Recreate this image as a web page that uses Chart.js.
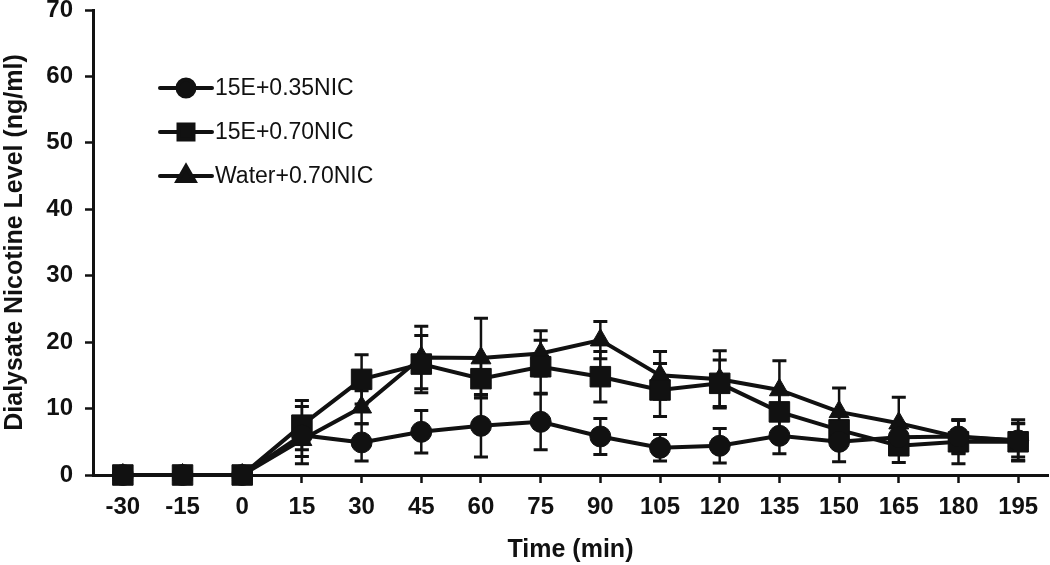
<!DOCTYPE html>
<html><head><meta charset="utf-8">
<script src="https://cdn.jsdelivr.net/npm/chart.js@4.4.1/dist/chart.umd.min.js"></script>
<style>html,body{margin:0;padding:0;background:#fff;}#wrap{width:1050px;height:565px;}</style>
</head><body><div id="wrap"><canvas id="c" width="1050" height="565"></canvas></div>
<script>
const timeLabels = ['-30','-15','0','15','30','45','60','75','90','105','120','135','150','165','180','195'];
const seriesNames = ['15E+0.35NIC','15E+0.70NIC','Water+0.70NIC'];
const e35Values  = [0,0,0,6.0,4.9,6.5,7.4,8.0,5.8,4.1,4.4,5.9,5.0,5.7,5.8,5.2];
const e35Errors  = [0,0,0,4.3,2.8,3.2,4.7,4.2,2.7,2.0,2.6,2.7,3.0,2.0,2.5,2.5];
const e70Values  = [0,0,0,7.5,14.4,16.7,14.5,16.3,14.8,12.8,13.8,9.5,6.8,4.4,5.0,5.0];
const e70Errors  = [0,0,0,3.7,3.7,4.3,2.5,4.0,3.8,4.0,3.5,3.0,2.5,2.5,3.3,2.8];
const w70Values  = [0,0,0,5.3,10.2,17.7,17.6,18.3,20.3,15.0,14.4,12.8,9.5,7.8,5.7,5.2];
const w70Errors  = [0,0,0,2.5,2.5,4.7,6.0,3.4,2.8,3.6,4.3,4.4,3.6,3.9,2.5,3.1];
const yTicks = {min:0, max:70, step:10};

const INK = '#111';
const FONT = '"Liberation Sans", Arial, Helvetica, sans-serif';

const errorBars = {
  id:'errorBars',
  beforeDatasetsDraw(chart){
    const ctx = chart.ctx, ys = chart.scales.y;
    chart.data.datasets.forEach((ds,i)=>{
      const meta = chart.getDatasetMeta(i);
      meta.data.forEach((pt,j)=>{
        const e = ds.errors[j]; if(!e) return;
        const v = ds.data[j];
        const yt = ys.getPixelForValue(v+e), yb = ys.getPixelForValue(v-e);
        ctx.save();
        ctx.strokeStyle = INK; ctx.lineWidth = 2.5;
        ctx.beginPath(); ctx.moveTo(pt.x,yt); ctx.lineTo(pt.x,yb); ctx.stroke();
        ctx.lineWidth = 3;
        ctx.beginPath();
        ctx.moveTo(pt.x-7,yt); ctx.lineTo(pt.x+7,yt);
        ctx.moveTo(pt.x-7,yb); ctx.lineTo(pt.x+7,yb);
        ctx.stroke();
        ctx.restore();
      });
    });
  }
};

const innerLegend = {
  id:'innerLegend',
  afterDraw(chart){
    const ctx = chart.ctx;
    const rows = [88,132,176];
    const legendRadius = [8.5,10.6,9.8];
    chart.data.datasets.forEach((ds,i)=>{
      const y = rows[i];
      ctx.save();
      ctx.strokeStyle = INK; ctx.lineWidth = 4; ctx.lineCap='round';
      ctx.beginPath(); ctx.moveTo(160,y); ctx.lineTo(212,y); ctx.stroke();
      ctx.fillStyle = INK; ctx.strokeStyle = INK;
      Chart.helpers.drawPoint(ctx,{pointStyle:ds.pointStyle,radius:legendRadius[i],rotation:0,borderWidth:1},186,y);
      ctx.fillStyle = INK;
      ctx.font = '23px ' + FONT;
      ctx.textBaseline = 'middle'; ctx.textAlign='left';
      ctx.fillText(ds.label,215,y+1);
      ctx.restore();
    });
  }
};

function ds(label, data, errors, style, radius){
  return {label, data, errors, pointStyle:style, pointRadius:radius, pointHoverRadius:radius,
    borderColor:INK, backgroundColor:INK, pointBackgroundColor:INK, pointBorderColor:INK,
    pointBorderWidth:1, borderWidth:4, tension:0, fill:false, clip:false};
}

new Chart(document.getElementById('c'),{
  type:'line',
  data:{labels:timeLabels, datasets:[
    ds(seriesNames[0], e35Values, e35Errors, 'circle', 10.5),
    ds(seriesNames[1], e70Values, e70Errors, 'rect', 14.5),
    ds(seriesNames[2], w70Values, w70Errors, 'triangle', 11.5)
  ]},
  options:{
    responsive:false, animation:false,
    layout:{autoPadding:false, padding:{top:10,right:2,left:0,bottom:0}},
    plugins:{legend:{display:false},tooltip:{enabled:false}},
    scales:{
      x:{offset:true,
        ticks:{color:INK,font:{family:FONT,size:24,weight:'bold'},padding:10,autoSkip:false,maxRotation:0},
        grid:{drawOnChartArea:false,offset:false,tickLength:8,tickColor:INK,tickWidth:2.5},
        border:{color:INK,width:3},
        title:{display:true,text:'Time (min)',color:INK,font:{family:FONT,size:25,weight:'bold'},padding:{top:0,bottom:0}},
        afterFit(s){s.height=90; s.paddingLeft=0; s.paddingRight=0;}
      },
      y:{min:yTicks.min,max:yTicks.max,
        ticks:{stepSize:yTicks.step,color:INK,font:{family:FONT,size:24,weight:'bold'},padding:12},
        grid:{drawOnChartArea:false,tickLength:8,tickColor:INK,tickWidth:2.5},
        border:{color:INK,width:3},
        title:{display:true,text:'Dialysate Nicotine Level (ng/ml)',color:INK,font:{family:FONT,size:25,weight:'bold'},padding:{top:0,bottom:0}},
        afterFit(s){s.width=93; s.paddingTop=0; s.paddingBottom=0;}
      }
    }
  },
  plugins:[errorBars, innerLegend]
});
</script></body></html>
